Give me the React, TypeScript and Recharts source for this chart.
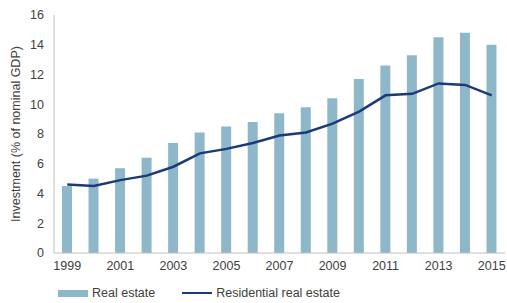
import { ComposedChart, Bar, Line, XAxis, YAxis } from "recharts";

const years = [
  "1999", "2000", "2001", "2002", "2003", "2004", "2005", "2006", "2007",
  "2008", "2009", "2010", "2011", "2012", "2013", "2014", "2015",
];
const realEstate = [4.5, 5.0, 5.7, 6.4, 7.4, 8.1, 8.5, 8.8, 9.4, 9.8, 10.4, 11.7, 12.6, 13.3, 14.5, 14.8, 14.0];
const residential = [4.6, 4.5, 4.9, 5.2, 5.8, 6.7, 7.0, 7.4, 7.9, 8.1, 8.7, 9.5, 10.6, 10.7, 11.4, 11.3, 10.6];
const yTicks = [0, 2, 4, 6, 8, 10, 12, 14, 16];

const BAR_COLOR = "#8fb7ca";
const LINE_COLOR = "#1b3a7a";
const TEXT_COLOR = "#404040";
const FONT = "'Liberation Sans', Arial, sans-serif";

const data = years.map((y, i) => ({ year: y, realEstate: realEstate[i], residential: residential[i] }));

export default function App() {
  const tick = { fill: TEXT_COLOR, fontSize: 12.5, fontFamily: FONT };
  return (
    <div style={{ position: "absolute", left: 0, top: 0, width: 507, height: 303, background: "#fff" }}>
      <ComposedChart width={507} height={303} data={data} margin={{ top: 15, right: 2, left: 0, bottom: 0 }}>
        <XAxis
          dataKey="year"
          interval={1}
          tickSize={0}
          tickMargin={8}
          height={50}
          stroke="#c0c0c0"
          tick={tick}
        />
        <YAxis
          domain={[0, 16]}
          ticks={yTicks}
          width={54}
          tickSize={0}
          tickMargin={10}
          stroke="#c0c0c0"
          tick={tick}
          label={{
            value: "Investment (% of nominal GDP)",
            angle: -90,
            position: "insideLeft",
            offset: 16,
            style: { textAnchor: "middle", fill: TEXT_COLOR, fontSize: 12.5, fontFamily: FONT },
          }}
        />
        <Bar dataKey="realEstate" fill={BAR_COLOR} barSize={10} isAnimationActive={false} />
        <Line
          dataKey="residential"
          stroke={LINE_COLOR}
          strokeWidth={2.5}
          dot={false}
          type="linear"
          isAnimationActive={false}
        />
      </ComposedChart>
      <div
        style={{
          position: "absolute",
          top: 286,
          left: 58,
          display: "flex",
          alignItems: "center",
          fontFamily: FONT,
          fontSize: 12.5,
          color: TEXT_COLOR,
          whiteSpace: "nowrap",
        }}
      >
        <span style={{ display: "inline-block", width: 30, height: 7, background: BAR_COLOR, marginRight: 4 }} />
        <span style={{ marginRight: 27 }}>Real estate</span>
        <span style={{ display: "inline-block", width: 30, height: 2.5, background: LINE_COLOR, marginRight: 4 }} />
        <span>Residential real estate</span>
      </div>
    </div>
  );
}
